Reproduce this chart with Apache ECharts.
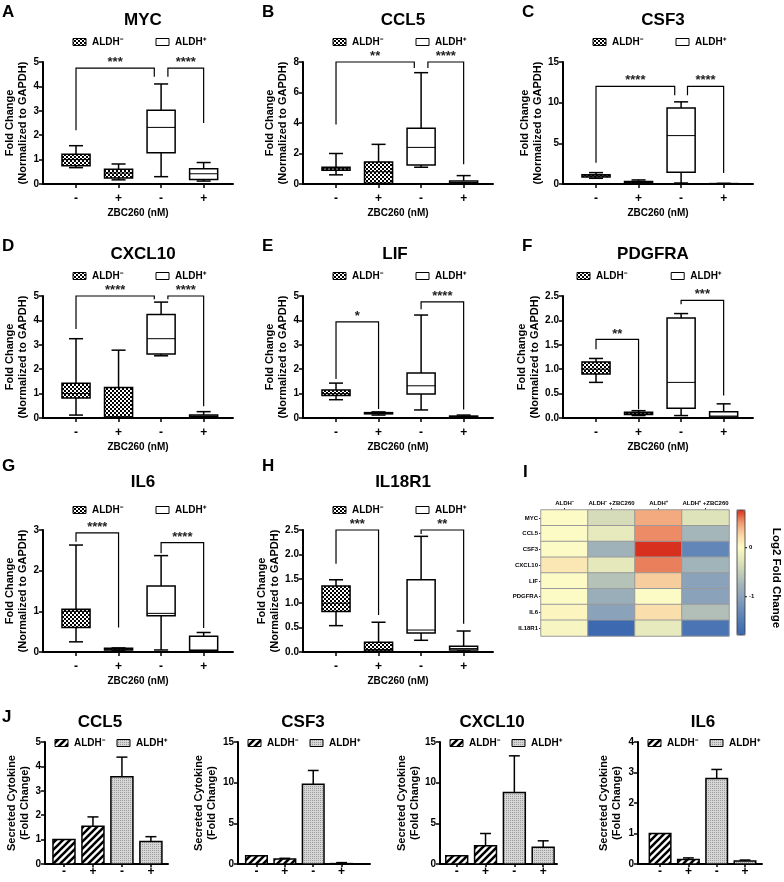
<!DOCTYPE html>
<html>
<head>
<meta charset="utf-8">
<script src="https://cdn.jsdelivr.net/npm/echarts@6/dist/echarts.min.js"></script>
<style>
html, body { margin: 0; padding: 0; background: #fff; }
#main { width: 784px; height: 882px; }
</style>
</head>
<body>
<div id="main"></div>
<script>
var treatLabels = ['-', '+', '-', '+'];

// box stats: [min, q1, median, q3, max] for ALDH- (-), ALDH- (+), ALDH+ (-), ALDH+ (+)
var mycBox    = [[0.67, 0.75, 1.0, 1.22, 1.57], [0.17, 0.25, 0.45, 0.6, 0.82], [0.3, 1.28, 2.32, 3.02, 4.1], [0.12, 0.18, 0.42, 0.62, 0.88]];
var ccl5Box   = [[0.6, 0.9, 1.0, 1.1, 2.0], [0.02, 0.05, 0.8, 1.45, 2.6], [1.1, 1.25, 2.4, 3.65, 7.3], [0.0, 0.05, 0.1, 0.2, 0.55]];
var csf3Box   = [[0.7, 0.85, 1.0, 1.15, 1.4], [0.05, 0.1, 0.2, 0.3, 0.5], [0.12, 1.45, 5.95, 9.35, 10.1], [0.01, 0.02, 0.03, 0.05, 0.08]];
var cxcl10Box = [[0.12, 0.82, 1.0, 1.42, 3.25], [0.0, 0.02, 0.05, 1.25, 2.78], [2.55, 2.62, 3.25, 4.24, 4.75], [0.02, 0.05, 0.08, 0.12, 0.26]];
var lifBox    = [[0.75, 0.92, 1.0, 1.15, 1.43], [0.12, 0.17, 0.2, 0.22, 0.25], [0.33, 0.98, 1.32, 1.84, 4.22], [0.02, 0.04, 0.06, 0.08, 0.12]];
var pdgfraBox = [[0.73, 0.9, 1.0, 1.15, 1.22], [0.05, 0.07, 0.1, 0.12, 0.15], [0.05, 0.2, 0.73, 2.05, 2.14], [0.0, 0.02, 0.04, 0.13, 0.29]];
var il6Box    = [[0.25, 0.6, 1.0, 1.05, 2.63], [0.03, 0.05, 0.07, 0.09, 0.1], [0.05, 0.89, 0.95, 1.62, 2.37], [0.02, 0.03, 0.05, 0.39, 0.48]];
var il18r1Box = [[0.54, 0.83, 1.0, 1.35, 1.48], [0.0, 0.02, 0.05, 0.2, 0.61], [0.24, 0.39, 0.45, 1.48, 2.37], [0.02, 0.04, 0.07, 0.12, 0.43]];

// significance brackets: [x from, x to, top, left leg end, right leg end]
var mycSig    = [[0, 1.84, 4.75, 2.2, 4.4], [2.16, 3, 4.75, 4.4, 2.5]];
var ccl5Sig   = [[0, 1.84, 8, 3.9, 7.6], [2.16, 3, 8, 7.6, 1.3]];
var csf3Sig   = [[0, 1.85, 12, 2.6, 10.9], [2.15, 3, 12, 10.9, 1.35]];
var cxcl10Sig = [[0, 1.84, 5, 3.65, 4.87], [2.16, 3, 5, 4.87, 0.48]];
var lifSig    = [[0, 1, 3.94, 1.6, 0.37], [2, 3, 4.76, 4.46, 0.35]];
var pdgfraSig = [[0, 1, 1.61, 1.41, 0.18], [2, 3, 2.41, 2.33, 0.46]];
var il6Sig    = [[0, 1, 2.93, 2.71, 0.6], [2, 3, 2.69, 2.43, 0.59]];
var il18r1Sig = [[0, 1, 2.5, 1.81, 0.76], [2, 3, 2.5, 2.42, 0.58]];
var mycStars = ['***', '****'], ccl5Stars = ['**', '****'], csf3Stars = ['****', '****'], cxcl10Stars = ['****', '****'];
var lifStars = ['*', '****'], pdgfraStars = ['**', '***'], il6Stars = ['****', '****'], il18r1Stars = ['***', '**'];

// heatmap (log2 fold change)
var heatGenes = ['MYC', 'CCL5', 'CSF3', 'CXCL10', 'LIF', 'PDGFRA', 'IL6', 'IL18R1'];
var heatConds = ['ALDH⁻', 'ALDH⁻ +ZBC260', 'ALDH⁺', 'ALDH⁺ +ZBC260'];
var heatLog2 = [
    [0.0, -0.35, 0.45, -0.28],
    [0.0, -0.2, 0.55, -0.75],
    [0.0, -0.8, 0.77, -1.35],
    [0.15, -0.22, 0.58, -0.78],
    [0.0, -0.62, 0.3, -1.0],
    [0.0, -0.85, 0.0, -1.0],
    [0.05, -1.0, 0.2, -0.65],
    [-0.05, -1.75, -0.2, -1.6]
];
var heatMin = -1.78, heatMax = 0.77;
var heatTicks = [0, -1];

// secreted cytokines (mean, error)
var secCcl5 = [1.0, 1.55, 3.58, 0.92],  secCcl5Err = [0, 0.38, 0.8, 0.2];
var secCsf3 = [1.0, 0.6, 9.8, 0.05],    secCsf3Err = [0, 0.1, 1.7, 0.12];
var secCxcl10 = [1.0, 2.25, 8.8, 2.05], secCxcl10Err = [0, 1.5, 4.5, 0.8];
var secIl6 = [1.0, 0.15, 2.8, 0.1],     secIl6Err = [0, 0.05, 0.3, 0.03];

var FONT = '"Liberation Sans", Arial, sans-serif';

function makePattern(size, draw) {
    var c = document.createElement('canvas');
    c.width = size; c.height = size;
    draw(c.getContext('2d'), size);
    return {image: c, repeat: 'repeat'};
}
var checker = makePattern(4, function (g) {
    g.fillStyle = '#000'; g.fillRect(0, 0, 4, 4);
    g.fillStyle = '#fff'; g.fillRect(0, 0, 2, 2); g.fillRect(2, 2, 2, 2);
});
var hatch = makePattern(7, function (g, s) {
    g.fillStyle = '#fff'; g.fillRect(0, 0, s, s);
    g.strokeStyle = '#000'; g.lineWidth = 2.6;
    g.beginPath();
    g.moveTo(-1, 1); g.lineTo(1, -1);
    g.moveTo(0, s); g.lineTo(s, 0);
    g.moveTo(s - 1, s + 1); g.lineTo(s + 1, s - 1);
    g.stroke();
});
var dots = makePattern(2, function (g) {
    g.fillStyle = '#d6d6d6'; g.fillRect(0, 0, 2, 2);
    g.fillStyle = '#9c9c9c'; g.fillRect(0, 0, 1, 1);
});

function renderBox(params, api) {
    var x = api.value(0);
    var cx = api.coord([x, 0])[0];
    var w = api.size([0.66, 0])[0];
    var ys = [1, 2, 3, 4, 5].map(function (d) { return api.coord([x, api.value(d)])[1]; });
    var ln = {stroke: '#000', lineWidth: 1.5, fill: 'none'};
    return {type: 'group', children: [
        {type: 'line', shape: {x1: cx, y1: ys[0], x2: cx, y2: ys[1]}, style: ln},
        {type: 'line', shape: {x1: cx, y1: ys[3], x2: cx, y2: ys[4]}, style: ln},
        {type: 'line', shape: {x1: cx - w / 4, y1: ys[0], x2: cx + w / 4, y2: ys[0]}, style: ln},
        {type: 'line', shape: {x1: cx - w / 4, y1: ys[4], x2: cx + w / 4, y2: ys[4]}, style: ln},
        {type: 'rect', shape: {x: cx - w / 2, y: ys[3], width: w, height: Math.max(ys[1] - ys[3], 0.5)},
            style: {fill: params.dataIndex < 2 ? checker : '#fff', stroke: '#000', lineWidth: 1.5}},
        {type: 'line', shape: {x1: cx - w / 2, y1: ys[2], x2: cx + w / 2, y2: ys[2]}, style: {stroke: '#000', lineWidth: 1, fill: 'none'}}
    ]};
}

function makeSigRender(stars) {
    return function (params, api) {
        var a = api.coord([api.value(0), api.value(3)]);
        var b = api.coord([api.value(0), api.value(2)]);
        var c = api.coord([api.value(1), api.value(2)]);
        var d = api.coord([api.value(1), api.value(4)]);
        return {type: 'group', children: [
            {type: 'polyline', shape: {points: [a, b, c, d]}, style: {stroke: '#000', lineWidth: 1.2, fill: 'none'}},
            {type: 'text', style: {text: stars[params.dataIndex], x: (b[0] + c[0]) / 2, y: b[1] + 1,
                align: 'center', verticalAlign: 'bottom', textAlign: 'center', textVerticalAlign: 'bottom',
                fontSize: 13, fontWeight: 'bold', fontFamily: FONT, fill: '#222'}}
        ]};
    };
}

function makeBarRender(errs) {
    return function (params, api) {
        var x = api.value(0), v = api.value(1);
        var p0 = api.coord([x, 0]), p1 = api.coord([x, v]);
        var w = api.size([0.76, 0])[0];
        var err = errs[params.dataIndex];
        var children = [];
        if (err > 0) {
            var e = api.coord([x, v + err])[1];
            children.push({type: 'line', shape: {x1: p1[0], y1: p1[1], x2: p1[0], y2: e}, style: {stroke: '#000', lineWidth: 1.5}});
            children.push({type: 'line', shape: {x1: p1[0] - w / 4, y1: e, x2: p1[0] + w / 4, y2: e}, style: {stroke: '#000', lineWidth: 1.5}});
        }
        children.push({type: 'rect', shape: {x: p1[0] - w / 2, y: p1[1], width: w, height: Math.max(p0[1] - p1[1], 0.5)},
            style: {fill: params.dataIndex < 2 ? hatch : dots, stroke: '#000', lineWidth: 1.5}});
        return {type: 'group', children: children};
    };
}

var boxPanels = [
    {title: 'MYC',    letter: 'A', col: 0, row: 0, box: mycBox,    sig: mycSig,    stars: mycStars,    max: 5,   step: 1},
    {title: 'CCL5',   letter: 'B', col: 1, row: 0, box: ccl5Box,   sig: ccl5Sig,   stars: ccl5Stars,   max: 8,   step: 2},
    {title: 'CSF3',   letter: 'C', col: 2, row: 0, box: csf3Box,   sig: csf3Sig,   stars: csf3Stars,   max: 15,  step: 5},
    {title: 'CXCL10', letter: 'D', col: 0, row: 1, box: cxcl10Box, sig: cxcl10Sig, stars: cxcl10Stars, max: 5,   step: 1},
    {title: 'LIF',    letter: 'E', col: 1, row: 1, box: lifBox,    sig: lifSig,    stars: lifStars,    max: 5,   step: 1, titleDx: -8},
    {title: 'PDGFRA', letter: 'F', col: 2, row: 1, box: pdgfraBox, sig: pdgfraSig, stars: pdgfraStars, max: 2.5, step: 0.5, dec: 1, titleDx: -10, legDx: -16},
    {title: 'IL6',    letter: 'G', col: 0, row: 2, box: il6Box,    sig: il6Sig,    stars: il6Stars,    max: 3,   step: 1},
    {title: 'IL18R1', letter: 'H', col: 1, row: 2, box: il18r1Box, sig: il18r1Sig, stars: il18r1Stars, max: 2.5, step: 0.5, dec: 1}
];

var barPanels = [
    {title: 'CCL5',   left: 45,  width: 123, xmin: -0.655, xmax: 3.59, vals: secCcl5,   errs: secCcl5Err,   max: 5,  step: 1, gap: 13, tx: 100},
    {title: 'CSF3',   left: 238, width: 132, xmin: -0.65,  xmax: 4.0,  vals: secCsf3,   errs: secCsf3Err,   max: 15, step: 5, gap: 20, tx: 303},
    {title: 'CXCL10', left: 440, width: 117, xmin: -0.58,  xmax: 3.48, vals: secCxcl10, errs: secCxcl10Err, max: 15, step: 5, gap: 17, tx: 492},
    {title: 'IL6',    left: 638, width: 124, xmin: -0.78,  xmax: 3.6,  vals: secIl6,    errs: secIl6Err,    max: 4,  step: 1, gap: 15, tx: 703}
];

var grids = [], xAxes = [], yAxes = [], series = [], elements = [];
var axisLineStyle = {show: true, onZero: false, lineStyle: {color: '#000', width: 2}};
var tickStyle = {show: true, length: 4, lineStyle: {color: '#000', width: 1.5}};

function text(x, y, str, size, align, extra) {
    var el = {type: 'text', x: x, y: y, silent: true, style: {text: str, fontSize: size, fontWeight: 'bold', fontFamily: FONT, fill: '#000',
        textAlign: align || 'center', textVerticalAlign: 'middle', align: align || 'center', verticalAlign: 'middle'}};
    if (extra) { for (var k in extra) el[k] = extra[k]; }
    return el;
}
function legendItem(x, y, fill, label) {
    elements.push({type: 'rect', silent: true, shape: {x: x, y: y - 3.5, width: 13, height: 7}, style: {fill: fill, stroke: '#000', lineWidth: 1}});
    elements.push(text(x + 19, y, label, 10, 'left'));
}

boxPanels.forEach(function (p, i) {
    var left = 43 + 260 * p.col, top = 62 + 234 * p.row;
    grids.push({left: left, top: top, width: 190, height: 122, containLabel: false, outerBoundsMode: 'none'});
    xAxes.push({gridIndex: i, type: 'value', min: -0.776, max: 3.69, splitLine: {show: false},
        axisLine: axisLineStyle, axisTick: {show: true, length: 4, customValues: [0, 1, 2, 3], lineStyle: {color: '#000', width: 1.5}},
        axisLabel: {customValues: [0, 1, 2, 3], margin: 9, fontSize: 12, fontWeight: 'bold', fontFamily: FONT, color: '#000',
            formatter: function (v) { return treatLabels[Math.round(v)]; }},
        name: 'ZBC260 (nM)', nameLocation: 'middle', nameGap: 24,
        nameTextStyle: {fontSize: 10, fontWeight: 'bold', fontFamily: FONT, color: '#000'}});
    yAxes.push({gridIndex: i, type: 'value', min: 0, max: p.max, interval: p.step, splitLine: {show: false},
        axisLine: axisLineStyle, axisTick: tickStyle,
        axisLabel: {margin: 4, fontSize: 10, fontWeight: 'bold', fontFamily: FONT, color: '#000',
            formatter: function (v) { return p.dec ? v.toFixed(p.dec) : String(v); }},
        name: 'Fold Change\n(Normalized to GAPDH)', nameLocation: 'middle', nameGap: 11,
        nameTextStyle: {fontSize: 11, fontWeight: 'bold', fontFamily: FONT, color: '#000', lineHeight: 13}});
    series.push({type: 'custom', xAxisIndex: i, yAxisIndex: i, silent: true, renderItem: renderBox,
        data: p.box.map(function (b, k) { return [k].concat(b); })});
    series.push({type: 'custom', xAxisIndex: i, yAxisIndex: i, silent: true, renderItem: makeSigRender(p.stars),
        data: p.sig});

    var titleY = [20, 254, 482][p.row], letterY = [12, 246, 466][p.row];
    elements.push(text(2 + 260 * p.col, letterY, p.letter, 17, 'left'));
    elements.push(text(143 + 260 * p.col + (p.titleDx || 0), titleY, p.title, 17));
    var ly = 42 + 234 * p.row, dx = p.legDx || 0;
    legendItem(left + 30 + dx, ly, checker, 'ALDH⁻');
    legendItem(left + 113 + dx * 0.3, ly, '#fff', 'ALDH⁺');
});

// heatmap panel I
var hIdx = grids.length;
grids.push({left: 541, top: 510, width: 188, height: 126, containLabel: false, outerBoundsMode: 'none'});
xAxes.push({gridIndex: hIdx, type: 'category', position: 'top', data: heatConds,
    axisLine: {show: false}, axisTick: {show: true, length: 2, alignWithLabel: true, interval: 0, lineStyle: {color: '#333'}},
    axisLabel: {margin: 4, interval: 0, fontSize: 6, fontWeight: 'bold', fontFamily: FONT, color: '#000'}, splitLine: {show: false}});
yAxes.push({gridIndex: hIdx, type: 'category', inverse: true, data: heatGenes,
    axisLine: {show: false}, axisTick: {show: true, length: 2, alignWithLabel: true, interval: 0, lineStyle: {color: '#333'}},
    axisLabel: {margin: 3, interval: 0, fontSize: 6, fontWeight: 'bold', fontFamily: FONT, color: '#000'}, splitLine: {show: false}});
var heatData = [];
heatLog2.forEach(function (row, r) { row.forEach(function (v, c) { heatData.push([c, r, v]); }); });
var heatSeriesIndex = series.length;
series.push({type: 'heatmap', xAxisIndex: hIdx, yAxisIndex: hIdx, data: heatData, silent: true,
    itemStyle: {borderColor: '#9a9a9a', borderWidth: 1}});
elements.push(text(523, 472, 'I', 17, 'left'));
var cbTop = 510, cbH = 125, cbX = 737;
heatTicks.forEach(function (t) {
    var y = cbTop + cbH * (heatMax - t) / (heatMax - heatMin);
    elements.push({type: 'line', silent: true, shape: {x1: cbX + 8, y1: y, x2: cbX + 10, y2: y}, style: {stroke: '#000', lineWidth: 1}});
    elements.push(text(cbX + 12, y, String(t), 6, 'left'));
});
elements.push({type: 'rect', silent: true, z: 100, shape: {x: cbX, y: cbTop, width: 8, height: cbH}, style: {fill: 'none', stroke: '#333', lineWidth: 0.8}});
elements.push(text(776, 578, 'Log2 Fold Change', 11.5, 'center', {rotation: -Math.PI / 2}));

// secreted cytokine panels J
elements.push(text(2, 717, 'J', 17, 'left'));
barPanels.forEach(function (p) {
    var gi = grids.length;
    grids.push({left: p.left, top: 742, width: p.width, height: 122, containLabel: false, outerBoundsMode: 'none'});
    xAxes.push({gridIndex: gi, type: 'value', min: p.xmin, max: p.xmax, splitLine: {show: false},
        axisLine: axisLineStyle, axisTick: {show: true, length: 3, customValues: [0, 1, 2, 3], lineStyle: {color: '#000', width: 1.5}},
        axisLabel: {customValues: [0, 1, 2, 3], margin: 2, fontSize: 12, fontWeight: 'bold', fontFamily: FONT, color: '#000',
            formatter: function (v) { return treatLabels[Math.round(v)]; }}});
    yAxes.push({gridIndex: gi, type: 'value', min: 0, max: p.max, interval: p.step, splitLine: {show: false},
        axisLine: axisLineStyle, axisTick: tickStyle,
        axisLabel: {margin: 4, fontSize: 10, fontWeight: 'bold', fontFamily: FONT, color: '#000'},
        name: 'Secreted Cytokine\n(Fold Change)', nameLocation: 'middle', nameGap: p.gap,
        nameTextStyle: {fontSize: 11, fontWeight: 'bold', fontFamily: FONT, color: '#000', lineHeight: 13}});
    series.push({type: 'custom', xAxisIndex: gi, yAxisIndex: gi, silent: true, renderItem: makeBarRender(p.errs),
        data: p.vals.map(function (v, k) { return [k, v]; })});
    elements.push(text(p.tx, 722, p.title, 17));
    legendItem(p.left + 10, 743, hatch, 'ALDH⁻');
    legendItem(p.left + 72, 743, dots, 'ALDH⁺');
});

var chart = echarts.init(document.getElementById('main'));
chart.setOption({
    animation: false,
    backgroundColor: '#fff',
    grid: grids,
    xAxis: xAxes,
    yAxis: yAxes,
    visualMap: {type: 'continuous', min: heatMin, max: heatMax, seriesIndex: heatSeriesIndex, orient: 'vertical',
        left: cbX, top: cbTop, itemWidth: 8, itemHeight: cbH, calculable: false, padding: 0, hoverLink: false,
        inRange: {color: ['#3a67b0', '#5079b5', '#6a8cb8', '#88a2ba', '#a3b5b9', '#c3cdb7', '#e2e6ba', '#fdfbc6', '#f9d7a5', '#ef9a70', '#d7301f']}},
    series: series,
    graphic: {elements: elements}
});
</script>
</body>
</html>
